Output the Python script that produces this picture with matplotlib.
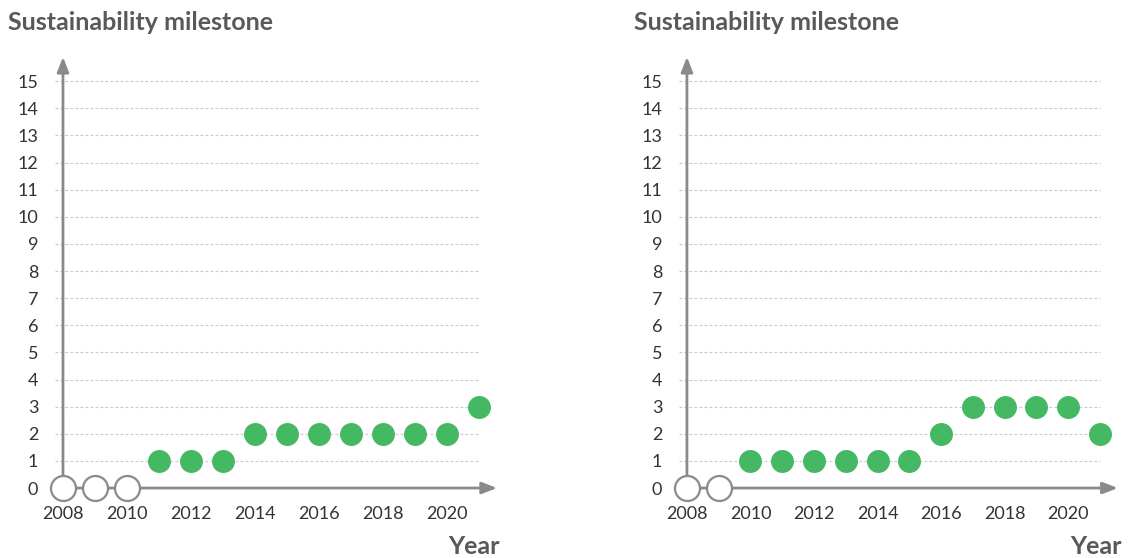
import matplotlib.pyplot as plt

# Milestone level per year, two programmes
years = list(range(2008, 2022))
level_a = [0, 0, 0, 1, 1, 1, 2, 2, 2, 2, 2, 2, 2, 3]
level_b = [0, 0, 1, 1, 1, 1, 1, 1, 2, 3, 3, 3, 3, 2]

yticks = list(range(0, 16))
xticks = list(range(2008, 2021, 2))

GREEN = '#45b864'
AXIS = '#8a8a8a'
GRID = '#c8c8c8'
TEXT = '#333333'
TITLE = '#595959'

plt.rcParams['font.family'] = ['Lato', 'DejaVu Sans']

fig = plt.figure(figsize=(11.28, 5.58), dpi=100)


def panel(rect, levels, title_x, year_x):
    ax = fig.add_axes(rect)
    ax.set_xlim(2007.4, 2022.0)
    ax.set_ylim(-0.5, 16.35)
    for s in ax.spines.values():
        s.set_visible(False)

    # dotted guide lines
    for v in yticks[1:]:
        ax.plot([2007.75, 2021], [v, v], color=GRID, lw=0.8,
                ls=(0, (2.5, 2)), zorder=1)

    # axes drawn as arrows
    ax.annotate('', xy=(2008, 16.0), xytext=(2008, 0),
                arrowprops=dict(arrowstyle='-|>,head_length=0.9,head_width=0.35',
                                color=AXIS, lw=2), annotation_clip=False)
    ax.annotate('', xy=(2021.65, 0), xytext=(2008, 0),
                arrowprops=dict(arrowstyle='-|>,head_length=0.9,head_width=0.35',
                                color=AXIS, lw=2), annotation_clip=False)

    for x, v in zip(years, levels):
        if v == 0:
            ax.plot(x, v, 'o', ms=18, mfc='white', mec=AXIS, mew=1.6,
                    zorder=4, clip_on=False)
        else:
            ax.plot(x, v, 'o', ms=15.5, mfc=GREEN, mec=GREEN, zorder=4,
                    clip_on=False)

    ax.set_yticks(yticks)
    ax.set_xticks(xticks)
    ax.tick_params(length=0, labelsize=13, labelcolor=TEXT)
    ax.tick_params(axis='y', pad=4)
    ax.tick_params(axis='x', pad=3)

    fig.text(title_x, 1 - 22 / 558, 'Sustainability milestone', fontsize=18,
             fontweight='bold', color=TITLE, va='center', ha='left')
    fig.text(year_x, 1 - 547 / 558, 'Year', fontsize=18, fontweight='bold',
             color=TITLE, va='center', ha='right')
    return ax


panel([0.0388, 0.1011, 0.4142, 0.819], level_a, 8 / 1128, 500 / 1128)
panel([0.5921, 0.1011, 0.4112, 0.819], level_b, 634 / 1128, 1122 / 1128)

fig.savefig('out.png', dpi=100)
